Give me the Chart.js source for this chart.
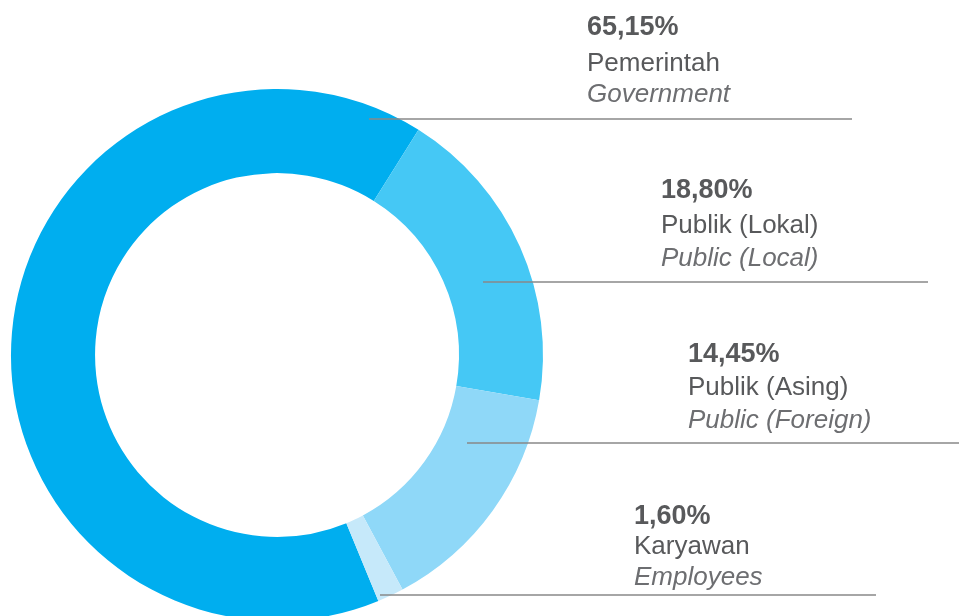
<!DOCTYPE html>
<html>
<head>
<meta charset="utf-8">
<script src="https://cdn.jsdelivr.net/npm/chart.js@4.4.0/dist/chart.umd.min.js"></script>
<style>
  html, body { margin: 0; padding: 0; background: #fff; overflow: hidden; }
  #wrap { width: 959px; height: 616px; overflow: hidden; }
</style>
</head>
<body>
<div id="wrap"><canvas id="shareChart" width="959" height="640"></canvas></div>
<script>
// shareholder composition
const labelsId = ["Pemerintah", "Publik (Lokal)", "Publik (Asing)", "Karyawan"];
const labelsEn = ["Government", "Public (Local)", "Public (Foreign)", "Employees"];
const shares = [65.15, 18.80, 14.45, 1.60];
const colors = ["#00aeef", "#45c8f5", "#8fd8f8", "#c6e9fa"];

// where each label block sits (text x, three baselines, leader line)
const labelLayout = [
  { x: 587, base: [35, 71, 102], lineY: 119, from: 369, to: 852 },
  { x: 661, base: [198, 233, 266], lineY: 282, from: 483, to: 928 },
  { x: 688, base: [362, 395, 428], lineY: 443, from: 467, to: 959 },
  { x: 634, base: [524, 554, 585], lineY: 595, from: 380, to: 876 },
];

const fmt = (v) => v.toFixed(2).replace(".", ",") + "%";

const sideLabels = {
  id: "sideLabels",
  afterDatasetsDraw(chart) {
    const ctx = chart.ctx;
    ctx.save();
    labelLayout.forEach((l, i) => {
      ctx.strokeStyle = "#888888";
      ctx.lineWidth = 1.5;
      ctx.beginPath();
      ctx.moveTo(l.from, l.lineY);
      ctx.lineTo(l.to, l.lineY);
      ctx.stroke();

      ctx.textAlign = "left";
      ctx.textBaseline = "alphabetic";
      ctx.fillStyle = "#58595b";
      ctx.font = "bold 27px 'Liberation Sans', Arial, sans-serif";
      ctx.fillText(fmt(shares[i]), l.x, l.base[0]);
      ctx.font = "26px 'Liberation Sans', Arial, sans-serif";
      ctx.fillText(labelsId[i], l.x, l.base[1]);
      ctx.fillStyle = "#6d6e71";
      ctx.font = "italic 26px 'Liberation Sans', Arial, sans-serif";
      ctx.fillText(labelsEn[i], l.x, l.base[2]);
    });
    ctx.restore();
  },
};

new Chart(document.getElementById("shareChart"), {
  type: "doughnut",
  data: {
    labels: labelsId,
    datasets: [
      {
        data: shares,
        backgroundColor: colors,
        borderWidth: 0,
        hoverOffset: 0,
      },
    ],
  },
  options: {
    responsive: false,
    animation: false,
    rotation: 157.6,
    cutout: "68.4%",
    layout: { padding: { left: 11, top: 89, right: 416, bottom: 19 } },
    plugins: {
      legend: { display: false },
      tooltip: { enabled: false },
    },
  },
  plugins: [sideLabels],
});
</script>
</body>
</html>
